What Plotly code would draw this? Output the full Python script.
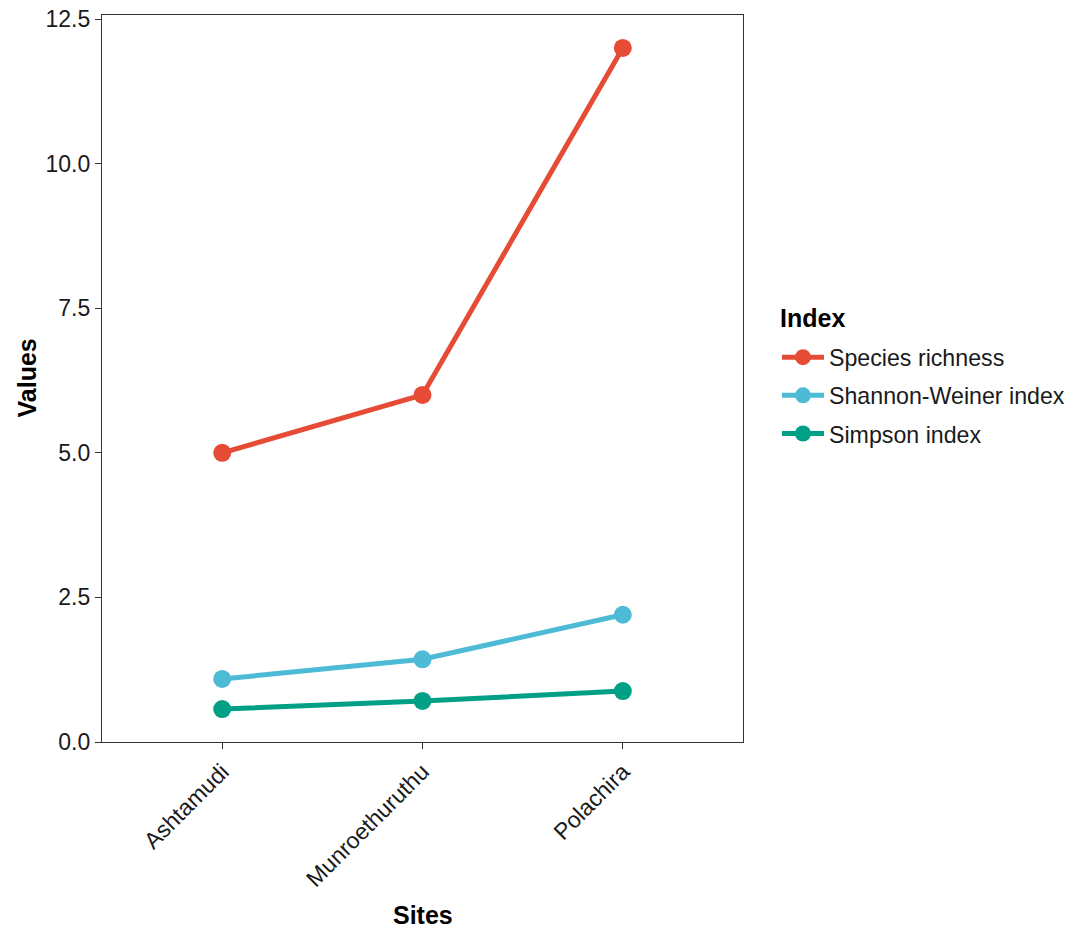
import plotly.graph_objects as go

sites = ["Ashtamudi", "Munroethuruthu", "Polachira"]
species_richness = [5, 6, 12]
shannon_weiner = [1.09, 1.43, 2.20]
simpson = [0.57, 0.71, 0.88]

series_names = ["Species richness", "Shannon-Weiner index", "Simpson index"]
series_values = [species_richness, shannon_weiner, simpson]
colors = ["#E64B35", "#4DBBD5", "#00A087"]

y_ticks = [0.0, 2.5, 5.0, 7.5, 10.0, 12.5]
y_tick_labels = ["0.0", "2.5", "5.0", "7.5", "10.0", "12.5"]

font_family = "Liberation Sans, Arial, sans-serif"

fig = go.Figure()
for name, vals, col in zip(series_names, series_values, colors):
    fig.add_trace(go.Scatter(
        x=sites, y=vals, name=name, mode="lines+markers", legendgroup=name,
        line=dict(color=col, width=5),
        marker=dict(color=col, size=18),
    ))

fig.update_layout(
    width=1076, height=933,
    margin=dict(l=94, r=341, t=7, b=199),
    paper_bgcolor="white", plot_bgcolor="white",
    font=dict(family=font_family, size=23, color="black"),
    legend=dict(
        x=1.053, y=0.559, xanchor="left", yanchor="top",
        font=dict(size=23.2, color="#1a1a1a"),
        tracegroupgap=5, itemwidth=42,
        bgcolor="rgba(0,0,0,0)",
    ),
    showlegend=True,
    annotations=[
        dict(text="<b>Index</b>", xref="paper", yref="paper", x=1.054, y=(734 - 310) / 727,
             xanchor="left", yanchor="middle", showarrow=False,
             font=dict(size=25, color="black")),
        dict(text="<b>Sites</b>", xref="paper", yref="paper", x=0.5, y=0, yshift=-173,
             xanchor="center", yanchor="middle", showarrow=False,
             font=dict(size=25, color="black")),
        dict(text="<b>Values</b>", xref="paper", yref="paper", x=0, y=0.5, xshift=-76,
             xanchor="center", yanchor="middle", showarrow=False, textangle=-90,
             font=dict(size=25, color="black")),
    ],
)

fig.update_xaxes(
    type="category", range=[-0.6, 2.6], automargin=False,
    tickangle=-45, tickfont=dict(size=23, color="#1a1a1a"),
    ticks="outside", ticklen=6, tickcolor="#333333", tickwidth=1.2,
    showline=True, linecolor="#333333", linewidth=1.2, mirror=True,
    showgrid=False, zeroline=False, ticklabeloverflow="allow",
)
fig.update_yaxes(
    range=[0, 12.57], automargin=False,
    tickvals=y_ticks, ticktext=y_tick_labels,
    tickfont=dict(size=23, color="#1a1a1a"),
    ticks="outside", ticklen=6, tickcolor="#333333", tickwidth=1.2,
    showline=True, linecolor="#333333", linewidth=1.2, mirror=True,
    showgrid=False, zeroline=False, ticklabeloverflow="allow",
)

fig.write_html("out.html")
